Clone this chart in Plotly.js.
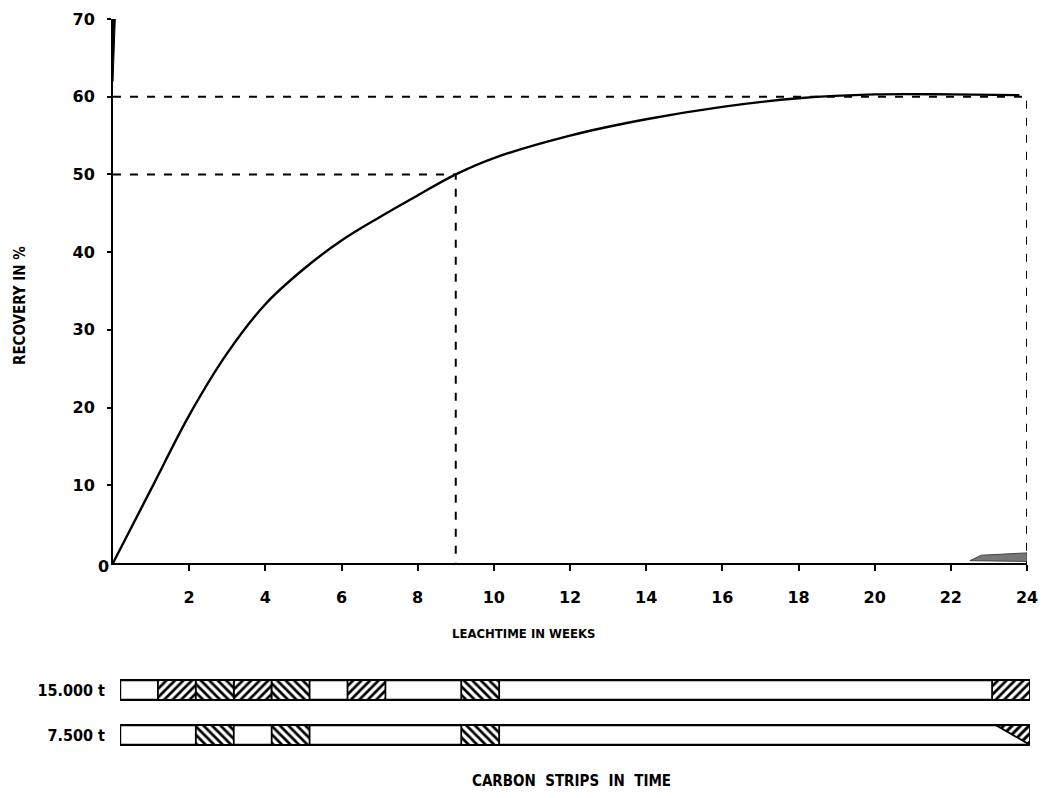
<!DOCTYPE html>
<html>
<head>
<meta charset="utf-8">
<script src="https://cdn.plot.ly/plotly-3.0.1.min.js"></script>
<style>
  html, body { margin: 0; padding: 0; background: #ffffff; }
  #chart { width: 1044px; height: 798px; }
</style>
</head>
<body>
<div id="chart"></div>
<script>
// Leach recovery curve (weeks vs. recovery %)
const weeks = [0, 1, 2, 3, 4, 5, 6, 7, 8, 9, 10, 12, 14, 16, 18, 20, 22, 23.8];
const recovery = [0, 9.5, 19, 27, 33.3, 37.8, 41.5, 44.5, 47.3, 50, 52.1, 55, 57.1, 58.7, 59.8, 60.3, 60.3, 60.2];

// Reference points marked with dashed guide lines
const guideWeeks = [9, 24];
const guideRecovery = [50, 60];

// Axis ticks
const xTicks = [2, 4, 6, 8, 10, 12, 14, 16, 18, 20, 22, 24];
const yTicks = [10, 20, 30, 40, 50, 60, 70];

// Carbon strip schedule (week in which each strip starts)
const stripNames = ['15.000 t', '7.500 t'];
const stripLength = 24;
const forwardStrips15000 = [1, 3, 6, 23];
const backStrips15000 = [2, 4, 9];
const backStrips7500 = [2, 4, 9];
const taperStart7500 = 23.1;

const condensed = '"Liberation Sans Narrow", "DejaVu Sans Condensed", "DejaVu Sans", sans-serif';
const hand = '"DejaVu Sans", sans-serif';

const traces = [];

// Dashed guides
guideWeeks.forEach((w, i) => {
  traces.push({
    type: 'scatter', mode: 'lines',
    x: [0, w, w], y: [guideRecovery[i], guideRecovery[i], 0],
    line: { color: '#000', width: 2, dash: '8px,9px' },
    hoverinfo: 'skip', showlegend: false
  });
});

// Recovery curve
traces.push({
  type: 'scatter', mode: 'lines',
  x: weeks, y: recovery,
  line: { color: '#000', width: 2.4, shape: 'spline', smoothing: 1 },
  showlegend: false
});

// Strips: outlines then hatched weeks
const halfH = 0.22;
stripNames.forEach((name, i) => {
  const level = stripNames.length - 1 - i;
  traces.push({
    type: 'bar', orientation: 'h', xaxis: 'x2', yaxis: 'y2',
    x: [stripLength], base: [0], y: [level], width: 2 * halfH,
    marker: { color: '#fff', line: { color: '#000', width: 2.4 } },
    showlegend: false, hoverinfo: 'skip'
  });
});

function hatched(startWeeks, level, shape) {
  return {
    type: 'bar', orientation: 'h', xaxis: 'x2', yaxis: 'y2',
    x: startWeeks.map(() => 1), base: startWeeks, y: startWeeks.map(() => level),
    width: 2 * halfH,
    marker: {
      color: '#fff',
      line: { color: '#000', width: 1.8 },
      pattern: { shape: shape, fgcolor: '#000', bgcolor: '#fff', size: 6, solidity: 0.45 }
    },
    showlegend: false, hoverinfo: 'skip'
  };
}
traces.push(hatched(forwardStrips15000, 1, '/'));
traces.push(hatched(backStrips15000, 1, '\\'));
traces.push(hatched(backStrips7500, 0, '\\'));

// Tapered end of the 7.500 t strip
traces.push({
  type: 'scatter', mode: 'lines', xaxis: 'x2', yaxis: 'y2',
  x: [taperStart7500, stripLength, stripLength, taperStart7500],
  y: [halfH, halfH, -halfH, halfH],
  fill: 'toself', fillcolor: '#fff',
  fillpattern: { shape: '/', fgcolor: '#000', bgcolor: '#fff', size: 6, solidity: 0.5 },
  line: { color: '#000', width: 1.8 },
  showlegend: false, hoverinfo: 'skip'
});

const H = 798, W = 1044;
const titleFont = { family: condensed, size: 15, color: '#000', weight: 'bold' };
const layout = {
  width: W, height: H,
  margin: { l: 0, r: 0, t: 0, b: 0 },
  paper_bgcolor: '#fff', plot_bgcolor: '#fff',
  barmode: 'overlay',
  showlegend: false,
  xaxis: {
    domain: [113 / W, 1027 / W], range: [0, 24],
    tickvals: xTicks, ticktext: xTicks.map(String),
    showgrid: false, zeroline: false,
    showline: true, linecolor: '#000', linewidth: 2,
    ticks: 'outside', ticklen: 6, tickwidth: 2, tickcolor: '#000',
    ticklabelstandoff: 13,
    tickfont: { family: hand, size: 16, color: '#000', weight: 'bold' },
    automargin: false, fixedrange: true
  },
  yaxis: {
    domain: [(H - 563) / H, (H - 19) / H], range: [0, 70],
    tickvals: yTicks, ticktext: yTicks.map(String),
    showgrid: false, zeroline: false,
    showline: true, linecolor: '#000', linewidth: 2,
    ticks: 'outside', ticklen: 4, tickwidth: 2, tickcolor: '#000',
    ticklabelstandoff: 9,
    tickfont: { family: hand, size: 16, color: '#000', weight: 'bold' },
    automargin: false, fixedrange: true
  },
  xaxis2: {
    domain: [120 / W, 1030 / W], range: [0, 24], anchor: 'y2',
    visible: false, fixedrange: true
  },
  yaxis2: {
    domain: [(H - 757.5) / H, (H - 667.5) / H], range: [-0.5, 1.5], anchor: 'x2',
    tickvals: stripNames.map((_, i) => stripNames.length - 1 - i), ticktext: stripNames,
    showgrid: false, zeroline: false, showline: false, ticks: '',
    ticklabelstandoff: 14,
    tickfont: { family: condensed, size: 16, color: '#000', weight: 'bold' },
    automargin: false, fixedrange: true
  },
  annotations: [
    { text: '0', xref: 'paper', yref: 'paper', x: 103 / W, y: (H - 566) / H,
      xanchor: 'center', yanchor: 'middle',
      showarrow: false, font: { family: hand, size: 16, color: '#000', weight: 'bold' } },
    { text: 'LEACHTIME IN WEEKS', xref: 'paper', yref: 'paper', x: 523 / W, y: (H - 633) / H,
      xanchor: 'center', yanchor: 'middle', showarrow: false,
      font: { family: condensed, size: 13, color: '#000', weight: 'bold' } },
    { text: 'RECOVERY IN %', xref: 'paper', yref: 'paper', x: 20 / W, y: (H - 306) / H,
      xanchor: 'center', yanchor: 'middle', textangle: -90, showarrow: false, font: titleFont },
    { text: 'CARBON\u00a0\u00a0STRIPS\u00a0\u00a0IN\u00a0\u00a0TIME', xref: 'paper', yref: 'paper',
      x: 571 / W, y: (H - 781) / H, xanchor: 'center', yanchor: 'middle',
      showarrow: false, font: titleFont }
  ],
  shapes: [
    // thickened tip at the top of the recovery axis
    { type: 'path', xref: 'x', yref: 'y', path: 'M 0,62 L -0.28,70 L 0.06,70 Z',
      fillcolor: '#000', line: { color: '#000', width: 1 } },
    // smudged arrow at the end of the time axis
    { type: 'path', xref: 'x', yref: 'y', path: 'M 22.5,0.3 L 24,0.2 L 24,1.3 L 22.8,1.0 Z',
      fillcolor: '#777', line: { color: '#444', width: 1 } }
  ]
};

Plotly.newPlot('chart', traces, layout, { displayModeBar: false, staticPlot: true });
</script>
</body>
</html>
